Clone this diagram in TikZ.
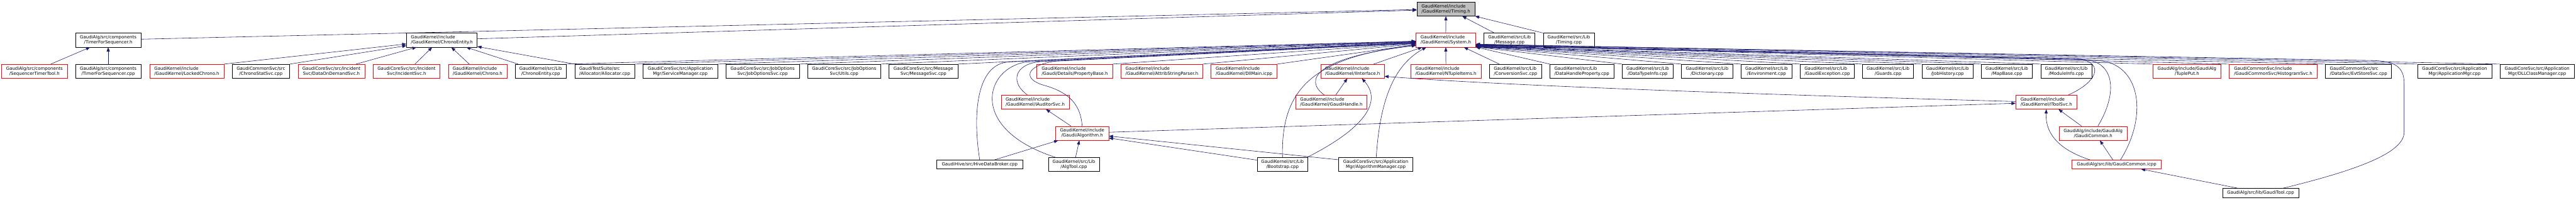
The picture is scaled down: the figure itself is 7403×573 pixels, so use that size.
\documentclass[tikz,border=0pt]{standalone}
\usepackage{fontspec}
\setmainfont{DejaVu Sans}
\usetikzlibrary{arrows.meta,calc}
\definecolor{edgec}{HTML}{191970}
\definecolor{rootfill}{HTML}{BFBFBF}
\tikzset{
  fbox/.style={draw=black, line width=0.6pt, fill=white, inner sep=0pt,
    minimum height=0.8cm, font=\fontsize{7.2}{8.5}\selectfont},
  tbox/.style={fbox, draw=red},
  rbox/.style={fbox, fill=rootfill},
  one/.style={minimum height=0.512cm},
  lft/.style={align=left},
  ctr/.style={align=center},
  wd/.style={minimum width=#1*0.02cm},
  lnk/.style={draw=edgec, line width=0.6pt, -{Triangle[length=6.8pt,width=5.1pt]}},
}
\begin{document}
\begin{tikzpicture}[x=0.02cm,y=-0.02cm]
\useasboundingbox (0,0) rectangle (7403,573);
% row A
\node[rbox,lft,wd=166.5] (tim) at (4155.2,26) {GaudiKernel/include\\/GaudiKernel/Timing.h};
% row B
\node[fbox,ctr,wd=188.6] (tfsh) at (311,115.3) {GaudiAlg/src/components\\/TimerForSequencer.h};
\node[fbox,lft,wd=202.9] (ceh) at (1269.9,115.3) {GaudiKernel/include\\/GaudiKernel/ChronoEntity.h};
\node[tbox,lft,wd=170.9] (sys) at (4155,115.3) {GaudiKernel/include\\/GaudiKernel/System.h};
\node[fbox,ctr,wd=146.7] (msg) at (4337.9,115.3) {GaudiKernel/src/Lib\\/Message.cpp};
\node[fbox,ctr,wd=147.1] (tcpp) at (4508.5,115.3) {GaudiKernel/src/Lib\\/Timing.cpp};
% row C
\node[tbox,ctr,wd=188.7] (stt) at (99,204.7) {GaudiAlg/src/components\\/SequencerTimerTool.h};
\node[fbox,ctr,wd=188.6] (tfscpp) at (311,204.7) {GaudiAlg/src/components\\/TimerForSequencer.cpp};
\node[tbox,lft,wd=213.9] (lck) at (536.75,204.7) {GaudiKernel/include\\/GaudiKernel/LockedChrono.h};
\node[fbox,ctr,wd=165.3] (css) at (749.7,204.7) {GaudiCommonSvc/src\\/ChronoStatSvc.cpp};
\node[tbox,ctr,wd=191.7] (dod) at (952.4,204.7) {GaudiCoreSvc/src/Incident\\Svc/DataOnDemandSvc.h};
\node[tbox,ctr,wd=192.2] (inc) at (1168.4,204.7) {GaudiCoreSvc/src/Incident\\Svc/IncidentSvc.h};
\node[tbox,lft,wd=167.7] (chr) at (1372.5,204.7) {GaudiKernel/include\\/GaudiKernel/Chrono.h};
\node[fbox,ctr,wd=146.7] (cecpp) at (1553.8,204.7) {GaudiKernel/src/Lib\\/ChronoEntity.cpp};
\node[fbox,lft,wd=172.4] (alloc) at (1737.8,204.7) {GaudiTestSuite/src\\/Allocator/Allocator.cpp};
\node[fbox,ctr,wd=213.8] (svcm) at (1955.1,204.7) {GaudiCoreSvc/src/Application\\Mgr/ServiceManager.cpp};
\node[fbox,ctr,wd=211.1] (jos) at (2191.4,204.7) {GaudiCoreSvc/src/JobOptions\\Svc/JobOptionsSvc.cpp};
\node[fbox,ctr,wd=211.1] (utl) at (2425.9,204.7) {GaudiCoreSvc/src/JobOptions\\Svc/Utils.cpp};
\node[fbox,ctr,wd=197.3] (msvc) at (2653.8,204.7) {GaudiCoreSvc/src/Message\\Svc/MessageSvc.cpp};
\node[tbox,lft,wd=217.5] (prop) at (3088.6,204.7) {GaudiKernel/include\\/Gaudi/Details/PropertyBase.h};
\node[tbox,lft,wd=234.5] (attr) at (3339,204.7) {GaudiKernel/include\\/GaudiKernel/AttribStringParser.h};
\node[tbox,lft,wd=189.4] (dll) at (3575.1,204.7) {GaudiKernel/include\\/GaudiKernel/DllMain.icpp};
\node[tbox,lft,wd=182.3] (iint) at (3887,204.7) {GaudiKernel/include\\/GaudiKernel/IInterface.h};
\node[tbox,lft,wd=202.9] (nti) at (4155.2,204.7) {GaudiKernel/include\\/GaudiKernel/NTupleItems.h};
\node[fbox,lft,wd=149.9] (conv) at (4355.3,204.7) {GaudiKernel/src/Lib\\/ConversionSvc.cpp};
\node[fbox,lft,wd=183] (dhp) at (4545.8,204.7) {GaudiKernel/src/Lib\\/DataHandleProperty.cpp};
\node[fbox,ctr,wd=146.7] (dti) at (4735.3,204.7) {GaudiKernel/src/Lib\\/DataTypeInfo.cpp};
\node[fbox,ctr,wd=147.1] (dict) at (4905.9,204.7) {GaudiKernel/src/Lib\\/Dictionary.cpp};
\node[fbox,ctr,wd=147.1] (env) at (5076.7,204.7) {GaudiKernel/src/Lib\\/Environment.cpp};
\node[fbox,lft,wd=154.6] (gex) at (5251.2,204.7) {GaudiKernel/src/Lib\\/GaudiException.cpp};
\node[fbox,ctr,wd=147.1] (grd) at (5425.8,204.7) {GaudiKernel/src/Lib\\/Guards.cpp};
\node[fbox,ctr,wd=147.1] (jh) at (5596.7,204.7) {GaudiKernel/src/Lib\\/JobHistory.cpp};
\node[fbox,ctr,wd=146.7] (mb) at (5767.3,204.7) {GaudiKernel/src/Lib\\/MapBase.cpp};
\node[fbox,ctr,wd=146.7] (mi) at (5938,204.7) {GaudiKernel/src/Lib\\/ModuleInfo.cpp};
\node[tbox,ctr,wd=194.9] (tp) at (6284.9,204.7) {GaudiAlg/include/GaudiAlg\\/TuplePut.h};
\node[tbox,lft,wd=253.5] (hs) at (6532.8,204.7) {GaudiCommonSvc/include\\/GaudiCommonSvc/HistogramSvc.h};
\node[fbox,lft,wd=189.6] (ess) at (6778,204.7) {GaudiCommonSvc/src\\/DataSvc/EvtStoreSvc.cpp};
\node[fbox,ctr,wd=213] (amgr) at (7054,204.7) {GaudiCoreSvc/src/Application\\Mgr/ApplicationMgr.cpp};
\node[fbox,ctr,wd=213.7] (dllcm) at (7291.2,204.7) {GaudiCoreSvc/src/Application\\Mgr/DLLClassManager.cpp};
% row D
\node[tbox,lft,wd=194.9] (iaud) at (2974.9,293.5) {GaudiKernel/include\\/GaudiKernel/IAuditorSvc.h};
\node[tbox,lft,wd=205.6] (gh) at (3826,293.5) {GaudiKernel/include\\/GaudiKernel/GaudiHandle.h};
\node[tbox,lft,wd=175.2] (its) at (5880.7,293.5) {GaudiKernel/include\\/GaudiKernel/IToolSvc.h};
% row E
\node[tbox,ctr,wd=152.6] (galg) at (3109.9,383) {GaudiKernel/include\\/Gaudi/Algorithm.h};
\node[tbox,ctr,wd=194.9] (gch) at (6015.2,383) {GaudiAlg/include/GaudiAlg\\/GaudiCommon.h};
% row F
\node[fbox,one,wd=246.4] (hive) at (2815.5,472.6) {GaudiHive/src/HiveDataBroker.cpp};
\node[fbox,ctr,wd=146.7] (algt) at (3086,472.6) {GaudiKernel/src/Lib\\/AlgTool.cpp};
\node[fbox,ctr,wd=146.3] (boot) at (3685.7,472.6) {GaudiKernel/src/Lib\\/Bootstrap.cpp};
\node[fbox,ctr,wd=213.6] (algm) at (3953.7,472.6) {GaudiCoreSvc/src/Application\\Mgr/AlgorithmManager.cpp};
\node[tbox,one,wd=256.2] (gci) at (6082.9,472.6) {GaudiAlg/src/lib/GaudiCommon.icpp};
% row G
\node[fbox,one,wd=219.1] (gt) at (6496.6,554.5) {GaudiAlg/src/lib/GaudiTool.cpp};

% ---- edges into Timing.h
\draw[lnk] (sys.north) -- (tim.south);
\draw[lnk] ($(msg.north west)+(30.5,0)$) -- ($(tim.south)+(47,0)$);
\draw[lnk] (tcpp.north west) -- (tim.south east);
\draw[lnk] ($(tfsh.east)+(0,-2.7)$) -- ($(tim.west)+(0,1.4)$);
\draw[lnk] ($(ceh.east)+(0,-3.8)$) -- ($(tim.west)+(0,3.2)$);
% ---- TimerForSequencer.h
\draw[lnk] ($(stt.north)+(47,0)$) -- ($(tfsh.south)+(-52,0)$);
\draw[lnk] (tfscpp.north) -- (tfsh.south);
% ---- ChronoEntity.h
\draw[lnk] (lck.north east) -- ($(ceh.west)+(0,11)$);
\draw[lnk] (css.north east) -- ($(ceh.west)+(0,16)$);
\draw[lnk] ($(dod.north)+(71,0)$) -- ($(ceh.south west)+(29,0)$);
\draw[lnk] ($(inc.north)+(24,0)$) -- ($(ceh.south west)+(74,0)$);
\draw[lnk] ($(chr.north)+(-24,0)$) -- ($(ceh.south west)+(129,0)$);
\draw[lnk] ($(cecpp.north west)+(9,0)$) -- ($(ceh.south east)+(-32,0)$);
\draw[lnk] (alloc.north west) -- ($(ceh.south east)+(0,-2)$);
% ---- System.h, from the left
\draw[lnk] (cecpp.north east) -- ($(sys.west)+(0,3)$);
\draw[lnk] (alloc.north east) -- ($(sys.west)+(0,3.5)$);
\draw[lnk] (svcm.north east) -- ($(sys.west)+(0,4)$);
\draw[lnk] (jos.north east) -- ($(sys.west)+(0,4.5)$);
\draw[lnk] (utl.north east) -- ($(sys.west)+(0,5)$);
\draw[lnk] (msvc.north east) -- ($(sys.west)+(0,6)$);
\draw[lnk] (hive.north) .. controls (2795,330) and (2805,183) .. (2900,178) -- ($(sys.west)+(0,7)$);
\draw[lnk] ($(algt.north west)+(21,0)$) .. controls (2780,370) and (2830,195) .. (2950,178) -- ($(sys.west)+(0,7.5)$);
\draw[lnk] ($(iaud.north)+(-22,0)$) .. controls (2905,240) and (2910,185) .. (2990,177) -- ($(sys.west)+(0,8)$);
\draw[lnk] (galg.north) .. controls (3105,290) and (3060,262) .. (3000,245) .. controls (2940,228) and (2945,190) .. (3030,176) -- ($(sys.west)+(0,9)$);
\draw[lnk] (prop.north east) -- ($(sys.west)+(0,9.5)$);
\draw[lnk] (attr.north east) -- ($(sys.west)+(0,11)$);
\draw[lnk] (dll.north east) -- ($(sys.west)+(0,13)$);
\draw[lnk] (boot.north) .. controls (3680,250) and (3780,165) .. ($(sys.west)+(0,14)$);
\draw[lnk] ($(gh.north)+(-20,0)$) .. controls (3745,230) and (3780,165) .. ($(sys.west)+(0,15.5)$);
% ---- System.h, from below
\draw[lnk] ($(iint.north east)+(-31,0)$) -- ($(sys.south west)+(18,0)$);
\draw[lnk] ($(algm.north)+(1.3,0)$) .. controls (3965,300) and (4000,190) .. ($(sys.south west)+(30,0)$);
\draw[lnk] (nti.north) -- (sys.south);
\draw[lnk] ($(conv.north west)+(29,0)$) -- ($(sys.south east)+(-34,0)$);
% ---- System.h, from the right
\draw[lnk] (dhp.north west) -- ($(sys.south east)+(0,-0.5)$);
\draw[lnk] (dti.north west) -- ($(sys.south east)+(0,-1)$);
\draw[lnk] (dict.north west) -- ($(sys.south east)+(0,-1.5)$);
\draw[lnk] (env.north west) -- ($(sys.south east)+(0,-2)$);
\draw[lnk] (gex.north west) -- ($(sys.south east)+(0,-2.5)$);
\draw[lnk] (grd.north west) -- ($(sys.south east)+(0,-3)$);
\draw[lnk] (jh.north west) -- ($(sys.south east)+(0,-3.5)$);
\draw[lnk] (mb.north west) -- ($(sys.south east)+(0,-4)$);
\draw[lnk] (mi.north west) -- ($(sys.south east)+(0,-4.5)$);
\draw[lnk] ($(its.north)+(63,0)$) .. controls (6040,230) and (6045,172) .. (5960,168) -- ($(sys.south east)+(0,-5)$);
\draw[lnk] ($(gch.north)+(13.6,0)$) .. controls (6085,270) and (6080,178) .. (5990,171) -- ($(sys.south east)+(0,-5.5)$);
\draw[lnk] ($(gci.north)+(11,0)$) .. controls (6175,330) and (6150,182) .. (6030,174) -- ($(sys.south east)+(0,-6)$);
\draw[lnk] (tp.north west) -- ($(sys.south east)+(0,-6.5)$);
\draw[lnk] (hs.north west) -- ($(sys.south east)+(0,-7)$);
\draw[lnk] (ess.north west) -- ($(sys.south east)+(0,-7.5)$);
\draw[lnk] ($(gt.north)+(63,0)$) .. controls (6770,490) and (6909,440) .. (6909,380) -- (6909,240) .. controls (6909,190) and (6880,176) .. (6820,174) -- ($(sys.south east)+(0,-8)$);
\draw[lnk] (amgr.north west) -- ($(sys.south east)+(0,-8.5)$);
\draw[lnk] (dllcm.north west) -- ($(sys.south east)+(0,-9)$);
% ---- Gaudi/Algorithm.h
\draw[lnk] ($(galg.north west)+(45,0)$) -- ($(iaud.south)+(31,0)$);
\draw[lnk] ($(hive.north east)+(-81,0)$) -- ($(galg.south west)+(8,0)$);
\draw[lnk] ($(algt.north)+(5,0)$) -- ($(galg.south)+(-8,0)$);
\draw[lnk] ($(boot.north west)+(0,8)$) -- ($(galg.east)+(0,13.6)$);
\draw[lnk] ($(algm.north west)+(0,7)$) -- ($(galg.east)+(0,8)$);
\draw[lnk] ($(galg.east)+(0,-3)$) -- ($(its.west)+(0,3.3)$);
% ---- IInterface.h
\draw[lnk] ($(its.west)+(0,-1.8)$) .. controls (5000,270) and (4300,245) .. ($(iint.east)+(0,14.6)$);
\draw[lnk] ($(gh.north)+(12.6,0)$) -- ($(iint.south)+(-15,0)$);
\draw[lnk] ($(boot.north east)+(-3,0)$) .. controls (3900,380) and (3980,300) .. ($(iint.south)+(26.7,0)$);
% ---- IToolSvc.h, GaudiCommon
\draw[lnk] ($(gch.north west)+(65,0)$) -- ($(its.south)+(35,0)$);
\draw[lnk] ($(gci.north west)+(52,0)$) .. controls (5900,425) and (5878,370) .. (its.south);
\draw[lnk] ($(gci.north)+(-11,0)$) -- ($(gch.south)+(19.5,0)$);
\draw[lnk] ($(gt.north)+(-63.6,0)$) -- ($(gci.south)+(70,0)$);
\end{tikzpicture}
\end{document}
